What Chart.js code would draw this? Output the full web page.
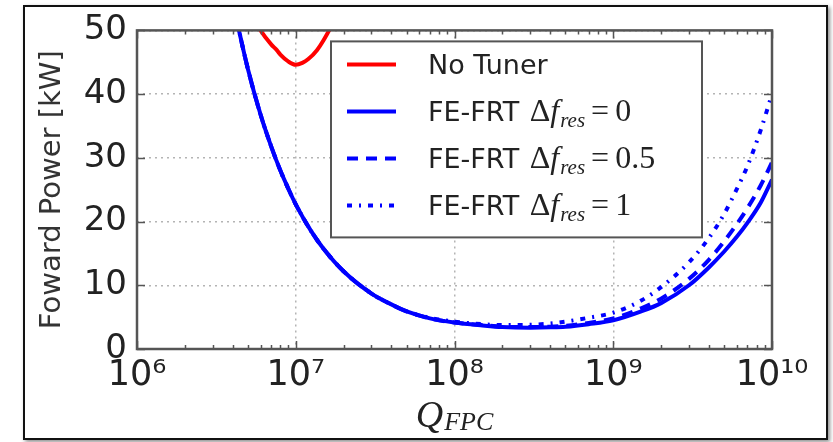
<!DOCTYPE html>
<html>
<head>
<meta charset="utf-8">
<script src="https://cdn.jsdelivr.net/npm/chart.js@4.4.1/dist/chart.umd.min.js"></script>
<style>
  html, body { margin: 0; padding: 0; background: #fff; }
  #frame { position: absolute; left: 23px; top: 5px; width: 801px; height: 431px; border: 2px solid #111; box-shadow: 2px 2px 4px rgba(0,0,0,0.45); background: #fff; }
  #chart { position: absolute; left: 0; top: 0; }
</style>
</head>
<body>
<div id="frame"></div>
<canvas id="chart" width="833" height="442"></canvas>
<script>
// Q_FPC sample points
const qNoTuner = [5e6, 6e6, 7e6, 7.6e6, 8e6, 9e6, 1e7, 1.1e7, 1.2e7, 1.36e7, 1.5e7, 1.7e7, 2e7];
const powerNoTuner = [53.5, 50.0, 47.8, 46.9, 46.2, 45.1, 44.6, 44.9, 45.5, 46.9, 48.5, 51.0, 55.0];

const qTuner = [4e6, 5e6, 6e6, 7e6, 8e6, 9e6, 1e7, 1.25e7, 1.5e7, 2e7, 3e7, 4e7, 5e7, 7e7, 1e8, 1.5e8, 2e8, 3e8, 4e8, 5e8, 7e8, 1e9, 1.5e9, 2e9, 3e9, 4e9, 5e9, 6e9, 7e9, 8.5e9, 1e10];
const powerDf0 = [54.5, 43.9, 36.8, 31.8, 28.0, 25.1, 22.7, 18.5, 15.7, 12.2, 8.7, 7.0, 5.9, 4.8, 4.15, 3.7, 3.45, 3.35, 3.4, 3.5, 3.9, 4.5, 5.9, 7.2, 10.0, 12.8, 15.3, 17.6, 19.8, 23.0, 26.6];
const powerDf05 = [54.5, 43.9, 36.8, 31.8, 28.0, 25.1, 22.7, 18.5, 15.7, 12.2, 8.7, 7.0, 5.9, 4.8, 4.15, 3.75, 3.5, 3.45, 3.5, 3.65, 4.1, 4.8, 6.4, 7.9, 11.0, 14.0, 16.9, 19.6, 22.1, 25.7, 29.3];
const powerDf1 = [54.5, 43.9, 36.8, 31.8, 28.0, 25.1, 22.7, 18.5, 15.7, 12.2, 8.7, 7.0, 5.9, 4.9, 4.3, 3.9, 3.75, 3.8, 4.0, 4.3, 4.9, 5.7, 7.6, 9.7, 13.6, 17.4, 21.2, 25.1, 28.7, 34.4, 40.0];

const legendValues = [null, '0', '0.5', '1'];

const SUP = '⁰¹²³⁴⁵⁶⁷⁸⁹';
const sup = n => String(n).split('').map(d => SUP[+d]).join('');
const isPow10 = v => Math.abs(Math.log10(v) - Math.round(Math.log10(v))) < 1e-9;

const xTickValues = [];
for (let e = 6; e < 10; e++) {
    for (let m = 1; m < 10; m++) xTickValues.push(m * Math.pow(10, e));
}
xTickValues.push(1e10);

const pts = (xs, ys) => xs.map((x, i) => ({ x: x, y: ys[i] }));

const spinePlugin = {
    id: 'spines',
    afterDatasetsDraw(chart) {
        const c = chart.ctx;
        const a = chart.chartArea;
        const xs = chart.scales.x, ys = chart.scales.y;
        c.save();
        c.strokeStyle = '#555';
        c.lineWidth = 1.5;
        c.beginPath();
        xTickValues.forEach(v => {
            const px = Math.round(xs.getPixelForValue(v)) + 0.5;
            const len = isPow10(v) ? 8 : 4;
            c.moveTo(px, a.bottom); c.lineTo(px, a.bottom - len);
            c.moveTo(px, a.top); c.lineTo(px, a.top + len);
        });
        ys.ticks.forEach(t => {
            const py = Math.round(ys.getPixelForValue(t.value)) + 0.5;
            c.moveTo(a.left, py); c.lineTo(a.left + 8, py);
            c.moveTo(a.right, py); c.lineTo(a.right - 8, py);
        });
        c.stroke();
        c.lineWidth = 2.5;
        c.strokeRect(a.left, a.top, a.right - a.left, a.bottom - a.top);
        c.restore();
    }
};

const legendPlugin = {
    id: 'texLegend',
    afterDraw(chart) {
        const c = chart.ctx;
        const a = chart.chartArea;
        const bx = a.left + 194, by = a.top + 11, bw = 371, bh = 196;
        c.save();
        c.fillStyle = '#fff';
        c.fillRect(bx, by, bw, bh);
        c.strokeStyle = '#555';
        c.lineWidth = 2;
        c.strokeRect(bx, by, bw, bh);
        chart.data.datasets.forEach((ds, i) => {
            const y = by + 23 + i * 47;
            c.beginPath();
            c.setLineDash(ds.borderDash || []);
            c.strokeStyle = ds.borderColor;
            c.lineWidth = ds.borderWidth;
            c.moveTo(bx + 16, y);
            c.lineTo(bx + 65, y);
            c.stroke();
            c.setLineDash([]);

            const base = y + 10;
            let x = bx + 97;
            c.fillStyle = '#222';
            c.textBaseline = 'alphabetic';
            c.textAlign = 'left';
            c.font = '27px "DejaVu Sans"';
            if (legendValues[i] === null) {
                c.fillText(ds.label, x, base);
                return;
            }
            const head = 'FE-FRT ';
            c.fillText(head, x, base);
            x += c.measureText(head).width + 2;
            c.font = '32px "Liberation Serif"';
            c.fillText('Δ', x, base);
            x += c.measureText('Δ').width;
            c.font = 'italic 32px "Liberation Serif"';
            c.fillText('f', x, base);
            x += c.measureText('f').width + 1;
            c.font = 'italic 21px "Liberation Serif"';
            c.fillText('res', x, base + 6);
            x += c.measureText('res').width + 6;
            c.font = '32px "Liberation Serif"';
            c.fillText('=', x, base);
            x += c.measureText('=').width + 6;
            c.fillText(legendValues[i], x, base);
        });
        c.restore();
    }
};

const xTitlePlugin = {
    id: 'xTitle',
    afterDraw(chart) {
        const c = chart.ctx;
        const a = chart.chartArea;
        c.save();
        c.fillStyle = '#222';
        c.textBaseline = 'alphabetic';
        c.textAlign = 'left';
        c.font = 'italic 38px "Liberation Serif"';
        const wQ = c.measureText('Q').width;
        c.font = 'italic 26px "Liberation Serif"';
        const wS = c.measureText('FPC').width;
        const x0 = (a.left + a.right) / 2 - (wQ + wS + 1) / 2;
        c.font = 'italic 38px "Liberation Serif"';
        c.fillText('Q', x0, 427);
        c.font = 'italic 26px "Liberation Serif"';
        c.fillText('FPC', x0 + wQ + 1, 430);
        c.restore();
    }
};

const ctx = document.getElementById('chart').getContext('2d');
const chart = new Chart(ctx, {
    type: 'line',
    data: {
        datasets: [
            {
                label: 'No Tuner',
                data: pts(qNoTuner, powerNoTuner),
                borderColor: '#ff0000',
                borderWidth: 4,
                order: 3
            },
            {
                label: 'FE-FRT Δf_res=0',
                data: pts(qTuner, powerDf0),
                borderColor: '#0000ff',
                borderWidth: 4,
                order: 2
            },
            {
                label: 'FE-FRT Δf_res=0.5',
                data: pts(qTuner, powerDf05),
                borderColor: '#0000ff',
                borderWidth: 4,
                borderDash: [11, 8],
                order: 1
            },
            {
                label: 'FE-FRT Δf_res=1',
                data: pts(qTuner, powerDf1),
                borderColor: '#0000ff',
                borderWidth: 4,
                borderDash: [5, 7, 2, 7],
                order: 0
            }
        ]
    },
    options: {
        responsive: false,
        animation: false,
        layout: { padding: { left: 0, top: 30, right: 61, bottom: 0 } },
        elements: {
            point: { radius: 0 },
            line: { cubicInterpolationMode: 'monotone', fill: false }
        },
        plugins: {
            legend: { display: false },
            tooltip: { enabled: false }
        },
        scales: {
            x: {
                type: 'logarithmic',
                min: 1e6,
                max: 1e10,
                afterBuildTicks: scale => {
                    scale.ticks = xTickValues.map(v => ({ value: v, major: isPow10(v) }));
                },
                afterFit: scale => { scale.height = 93; },
                grid: {
                    drawTicks: false,
                    lineWidth: 1.5,
                    color: c => (c.tick && isPow10(c.tick.value)) ? '#b4b4b4' : 'rgba(0,0,0,0)'
                },
                border: { display: false, dash: [2, 4] },
                ticks: {
                    autoSkip: false,
                    maxRotation: 0,
                    minRotation: 0,
                    padding: 6,
                    color: '#222',
                    font: { family: 'DejaVu Sans', size: 35 },
                    callback: v => isPow10(v) ? '10' + sup(Math.round(Math.log10(v))) : ''
                }
            },
            y: {
                min: 0,
                max: 50,
                afterFit: scale => { scale.width = 137; },
                grid: {
                    drawTicks: false,
                    lineWidth: 1.5,
                    color: '#b4b4b4'
                },
                border: { display: false, dash: [2, 4] },
                ticks: {
                    stepSize: 10,
                    padding: 10,
                    color: '#222',
                    font: { family: 'DejaVu Sans', size: 34 }
                },
                title: {
                    display: true,
                    text: 'Foward Power [kW]',
                    color: '#333',
                    font: { family: 'DejaVu Sans', size: 29 },
                    padding: { top: 35, bottom: 0 }
                }
            }
        }
    },
    plugins: [spinePlugin, legendPlugin, xTitlePlugin]
});
</script>
</body>
</html>
